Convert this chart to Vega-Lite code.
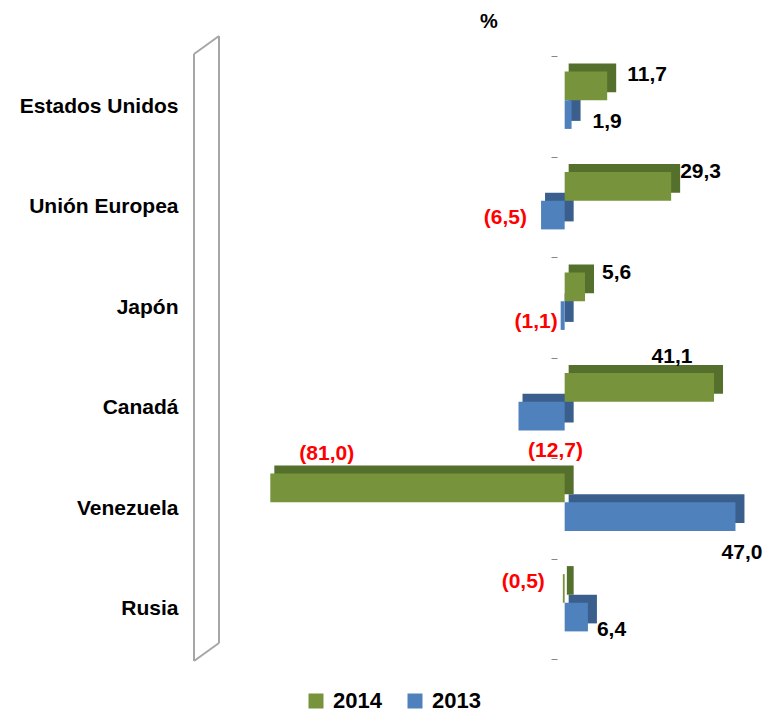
{
  "$schema": "https://vega.github.io/schema/vega-lite/v6.json",
  "width": 556,
  "height": 603,
  "autosize": "none",
  "padding": {"left": 194, "top": 56, "right": 14, "bottom": 55},
  "background": "white",
  "config": {
    "font": "Liberation Sans",
    "view": {"stroke": null},
    "locale": {"number": {"decimal": ",", "thousands": ".", "grouping": [3], "currency": ["", ""]}}
  },
  "title": {"text": "%", "anchor": "start", "frame": "group", "dx": 286, "offset": 3, "fontSize": 20, "fontWeight": "bold", "color": "#000000"},
  "datasets": {
    "bars": [
      {"pais": "Estados Unidos", "anio": "2014", "valor": 11.7},
      {"pais": "Estados Unidos", "anio": "2013", "valor": 1.9},
      {"pais": "Unión Europea", "anio": "2014", "valor": 29.3},
      {"pais": "Unión Europea", "anio": "2013", "valor": -6.5},
      {"pais": "Japón", "anio": "2014", "valor": 5.6},
      {"pais": "Japón", "anio": "2013", "valor": -1.1},
      {"pais": "Canadá", "anio": "2014", "valor": 41.1},
      {"pais": "Canadá", "anio": "2013", "valor": -12.7},
      {"pais": "Venezuela", "anio": "2014", "valor": -81.0},
      {"pais": "Venezuela", "anio": "2013", "valor": 47.0},
      {"pais": "Rusia", "anio": "2014", "valor": -0.5},
      {"pais": "Rusia", "anio": "2013", "valor": 6.4}
    ],
    "wall": [
      {"x": -102, "y": -0.0033, "x2": -102, "y2": 1.0033},
      {"x": -102, "y": 1.0033, "x2": -95.12, "y2": 1.0332},
      {"x": -95.12, "y": 1.0332, "x2": -95.12, "y2": 0.0265},
      {"x": -95.12, "y": 0.0265, "x2": -102, "y2": -0.0033}
    ]
  },
  "layer": [
    {
      "data": {"name": "wall"},
      "mark": {"type": "rule", "color": "#A6A6A6", "strokeWidth": 2},
      "encoding": {
        "x": {"field": "x", "type": "quantitative", "scale": {"domain": [-102, 51], "nice": false, "zero": false}, "axis": null},
        "x2": {"field": "x2"},
        "y": {"field": "y", "type": "quantitative", "scale": {"domain": [0, 1], "nice": false, "zero": false}, "axis": null},
        "y2": {"field": "y2"}
      }
    },
    {
      "data": {"name": "bars"},
      "encoding": {
        "y": {
          "field": "pais", "type": "nominal",
          "sort": ["Estados Unidos", "Unión Europea", "Japón", "Canadá", "Venezuela", "Rusia"],
          "scale": {"paddingInner": 0, "paddingOuter": 0},
          "axis": {
            "title": null, "domain": false, "ticks": false,
            "labelFontSize": 21, "labelFontWeight": "bold", "labelColor": "#000000",
            "labelPadding": 16, "labelLimit": 300,
            "grid": true, "gridColor": "#868686", "gridWidth": 1, "gridDash": [0, 357, 6, 2000],
            "tickBand": "extent"
          }
        },
        "yOffset": {"field": "anio", "type": "nominal", "sort": ["2014", "2013"], "scale": {"domain": ["2014", "2013"], "range": [-6, 94.5], "paddingInner": 0, "paddingOuter": 0.754}},
        "x": {"field": "valor", "type": "quantitative", "scale": {"domain": [-102, 51], "nice": false}, "axis": null}
      },
      "layer": [
        {
          "transform": [{"filter": "datum.valor >= 0"}],
          "mark": {"type": "bar", "xOffset": 9, "x2Offset": 4},
          "encoding": {
            "x2": {"datum": 0},
            "yOffset": {"field": "anio", "type": "nominal", "sort": ["2014", "2013"], "scale": {"domain": ["2014", "2013"], "range": [-14, 86.5], "paddingInner": 0, "paddingOuter": 0.754}},
            "color": {"condition": {"test": "datum.anio === '2014'", "value": "#55702C"}, "value": "#3A5F8D"}
          }
        },
        {
          "transform": [{"filter": "datum.valor < 0"}],
          "mark": {"type": "bar", "xOffset": 4, "x2Offset": 9},
          "encoding": {
            "x2": {"datum": 0},
            "yOffset": {"field": "anio", "type": "nominal", "sort": ["2014", "2013"], "scale": {"domain": ["2014", "2013"], "range": [-14, 86.5], "paddingInner": 0, "paddingOuter": 0.754}},
            "color": {"condition": {"test": "datum.anio === '2014'", "value": "#55702C"}, "value": "#3A5F8D"}
          }
        },
        {
          "mark": {"type": "bar"},
          "encoding": {
            "color": {
              "field": "anio", "type": "nominal", "sort": ["2014", "2013"],
              "scale": {"domain": ["2014", "2013"], "range": ["#77933C", "#4F81BD"]},
              "legend": {
                "orient": "none", "legendX": 111, "legendY": 634, "direction": "horizontal", "title": null,
                "symbolType": "square", "symbolSize": 225, "symbolStrokeWidth": 0,
                "labelFontSize": 22, "labelFontWeight": "bold", "labelColor": "#000000",
                "labelOffset": 6, "columnPadding": 22
              }
            }
          }
        },
        {
          "transform": [{"filter": "datum.pais === 'Estados Unidos' && datum.anio === '2014'"}],
          "mark": {"type": "text", "align": "left", "baseline": "middle", "dx": 20, "dy": -5, "fontSize": 21, "fontWeight": "bold"},
          "encoding": {"text": {"field": "valor", "type": "quantitative", "format": "(.1f"}, "color": {"condition": {"test": "datum.valor < 0", "value": "#FF0000"}, "value": "#000000"}}
        },
        {
          "transform": [{"filter": "datum.pais === 'Estados Unidos' && datum.anio === '2013'"}],
          "mark": {"type": "text", "align": "left", "baseline": "middle", "dx": 21, "dy": 2, "fontSize": 21, "fontWeight": "bold"},
          "encoding": {"text": {"field": "valor", "type": "quantitative", "format": "(.1f"}, "color": {"condition": {"test": "datum.valor < 0", "value": "#FF0000"}, "value": "#000000"}}
        },
        {
          "transform": [{"filter": "datum.pais === 'Unión Europea' && datum.anio === '2014'"}],
          "mark": {"type": "text", "align": "left", "baseline": "middle", "dx": 9, "dy": -9, "fontSize": 21, "fontWeight": "bold"},
          "encoding": {"text": {"field": "valor", "type": "quantitative", "format": "(.1f"}, "color": {"condition": {"test": "datum.valor < 0", "value": "#FF0000"}, "value": "#000000"}}
        },
        {
          "transform": [{"filter": "datum.pais === 'Unión Europea' && datum.anio === '2013'"}],
          "mark": {"type": "text", "align": "right", "baseline": "middle", "dx": -14, "dy": -3, "fontSize": 21, "fontWeight": "bold"},
          "encoding": {"text": {"field": "valor", "type": "quantitative", "format": "(.1f"}, "color": {"condition": {"test": "datum.valor < 0", "value": "#FF0000"}, "value": "#000000"}}
        },
        {
          "transform": [{"filter": "datum.pais === 'Japón' && datum.anio === '2014'"}],
          "mark": {"type": "text", "align": "left", "baseline": "middle", "dx": 17, "dy": -8, "fontSize": 21, "fontWeight": "bold"},
          "encoding": {"text": {"field": "valor", "type": "quantitative", "format": "(.1f"}, "color": {"condition": {"test": "datum.valor < 0", "value": "#FF0000"}, "value": "#000000"}}
        },
        {
          "transform": [{"filter": "datum.pais === 'Japón' && datum.anio === '2013'"}],
          "mark": {"type": "text", "align": "right", "baseline": "middle", "dx": -3, "dy": 1, "fontSize": 21, "fontWeight": "bold"},
          "encoding": {"text": {"field": "valor", "type": "quantitative", "format": "(.1f"}, "color": {"condition": {"test": "datum.valor < 0", "value": "#FF0000"}, "value": "#000000"}}
        },
        {
          "transform": [{"filter": "datum.pais === 'Canadá' && datum.anio === '2014'"}],
          "mark": {"type": "text", "align": "center", "baseline": "middle", "dx": -42, "dy": -25, "fontSize": 21, "fontWeight": "bold"},
          "encoding": {"text": {"field": "valor", "type": "quantitative", "format": "(.1f"}, "color": {"condition": {"test": "datum.valor < 0", "value": "#FF0000"}, "value": "#000000"}}
        },
        {
          "transform": [{"filter": "datum.pais === 'Canadá' && datum.anio === '2013'"}],
          "mark": {"type": "text", "align": "center", "baseline": "middle", "dx": 37, "dy": 29, "fontSize": 21, "fontWeight": "bold"},
          "encoding": {"text": {"field": "valor", "type": "quantitative", "format": "(.1f"}, "color": {"condition": {"test": "datum.valor < 0", "value": "#FF0000"}, "value": "#000000"}}
        },
        {
          "transform": [{"filter": "datum.pais === 'Venezuela' && datum.anio === '2014'"}],
          "mark": {"type": "text", "align": "left", "baseline": "middle", "dx": 29, "dy": -28, "fontSize": 21, "fontWeight": "bold"},
          "encoding": {"text": {"field": "valor", "type": "quantitative", "format": "(.1f"}, "color": {"condition": {"test": "datum.valor < 0", "value": "#FF0000"}, "value": "#000000"}}
        },
        {
          "transform": [{"filter": "datum.pais === 'Venezuela' && datum.anio === '2013'"}],
          "mark": {"type": "text", "align": "right", "baseline": "middle", "dx": 27, "dy": 31, "fontSize": 21, "fontWeight": "bold"},
          "encoding": {"text": {"field": "valor", "type": "quantitative", "format": "(.1f"}, "color": {"condition": {"test": "datum.valor < 0", "value": "#FF0000"}, "value": "#000000"}}
        },
        {
          "transform": [{"filter": "datum.pais === 'Rusia' && datum.anio === '2014'"}],
          "mark": {"type": "text", "align": "right", "baseline": "middle", "dx": -18, "dy": -1, "fontSize": 21, "fontWeight": "bold"},
          "encoding": {"text": {"field": "valor", "type": "quantitative", "format": "(.1f"}, "color": {"condition": {"test": "datum.valor < 0", "value": "#FF0000"}, "value": "#000000"}}
        },
        {
          "transform": [{"filter": "datum.pais === 'Rusia' && datum.anio === '2013'"}],
          "mark": {"type": "text", "align": "left", "baseline": "middle", "dx": 9, "dy": 7, "fontSize": 21, "fontWeight": "bold"},
          "encoding": {"text": {"field": "valor", "type": "quantitative", "format": "(.1f"}, "color": {"condition": {"test": "datum.valor < 0", "value": "#FF0000"}, "value": "#000000"}}
        }
      ],
      "resolve": {"scale": {"yOffset": "independent"}}
    }
  ],
  "resolve": {"scale": {"y": "independent"}, "axis": {"y": "independent"}}
}
